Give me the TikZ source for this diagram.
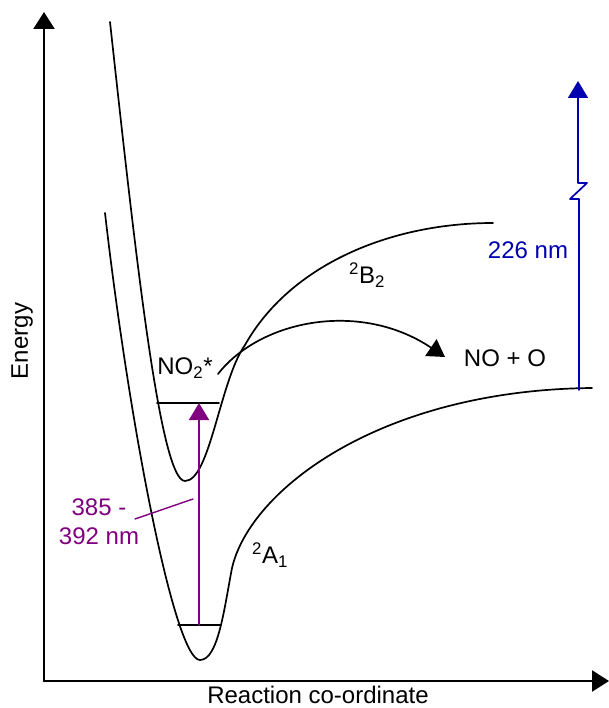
\documentclass[tikz,border=0pt]{standalone}
\usepackage{fontspec}
\setmainfont{Liberation Sans}
\usetikzlibrary{arrows.meta}
\definecolor{uvpurple}{RGB}{128,0,128}
\definecolor{uvblue}{RGB}{0,0,176}
\tikzset{
	curve/.style={line width=1.7pt},
	axis/.style={line width=2.2pt,-{Triangle[width=21pt,length=17pt]}},
	bigtip/.style={-{Triangle[width=20pt,length=17pt]}},
	lbl/.style={font=\fontsize{24}{29}\selectfont,inner sep=0pt}
}
\begin{document}
\begin{tikzpicture}[x=1pt,y=-1pt, line join = round, line cap = round]
	\useasboundingbox (0,0) rectangle (609,708);
	\coordinate (O) at (44,681);
	\coordinate (Ytop) at (44,12);
	\coordinate (Xend) at (609,681);
	\coordinate (B1) at (110,22);
	\coordinate (Bmin) at (185,481);
	\coordinate (Bx) at (245,345);
	\coordinate (Bend) at (493,223);
	\coordinate (A1) at (105,213);
	\coordinate (Amin) at (200,660);
	\coordinate (Ai) at (232,568);
	\coordinate (Aend) at (592,388);
	\coordinate (Lu1) at (157,403);
	\coordinate (Lu2) at (219,403);
	\coordinate (Ll1) at (178,625);
	\coordinate (Ll2) at (221,625);
	\coordinate (Pa) at (199,625);
	\coordinate (Pb) at (199,403);
	\coordinate (R1) at (218,374);
	\coordinate (R2) at (445,357);
	\coordinate (U0) at (579,390);
	\coordinate (U1) at (579,199);
	\coordinate (U2) at (570,199);
	\coordinate (U3) at (587,183);
	\coordinate (U4) at (578,183);
	\coordinate (U5) at (578,81);
	\coordinate (T1) at (135,519);
	\coordinate (T2) at (193,499);

	% axes
	\draw[axis] (O) -- (Ytop);
	\draw[axis] (O) -- (Xend);
	\node[lbl,rotate=90] (energy) at (22,341) {Energy};
	\node[lbl] (coord) at (318,695) {Reaction co-ordinate};

	% potential curves
	\draw[curve] (B1) .. controls (135,250) and (160,481) .. (Bmin)
		.. controls (210,481) and (220,380) .. (Bx)
		.. controls (290,265) and (390,223) .. (Bend);
	\draw[curve] (A1) .. controls (130,430) and (175,660) .. (Amin)
		.. controls (218,660) and (224,610) .. (Ai)
		.. controls (250,490) and (380,390) .. (Aend);
	\draw[curve] (Lu1) -- (Lu2);
	\draw[curve] (Ll1) -- (Ll2);
	\node[lbl] (Btwo) at (367,275) {\textsuperscript{2}B\textsubscript{2}};
	\node[lbl] (Aone) at (270,555) {\textsuperscript{2}A\textsubscript{1}};
	\node[lbl] (NOtwo) at (185,368) {NO\textsubscript{2}*};

	% dissociation
	\draw[curve,bigtip] (R1) .. controls (260,320) and (360,300) .. (R2);
	\node[lbl] (products) at (505,358) {NO + O};

	% photolysis
	\draw[uvpurple,line width=1.7pt,bigtip] (Pa) -- (Pb);
	\draw[uvpurple,line width=1.4pt] (T1) -- (T2);
	\node[lbl,uvpurple,align=center] (purple) at (99,522) {385 -\\392 nm};
	\draw[uvblue,line width=1.7pt,bigtip] (U0) -- (U1) -- (U2) -- (U3) -- (U4) -- (U5);
	\node[lbl,uvblue] (blue) at (528,250) {226 nm};
\end{tikzpicture}
\end{document}
